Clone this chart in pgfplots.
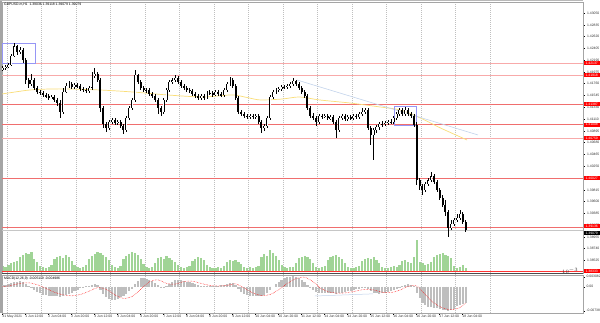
\documentclass[border=0pt]{standalone}
\usepackage{fontspec}
\setmainfont{Liberation Sans}
\usepackage{pgfplots}
\usepackage{pgfplotstable}
\pgfplotsset{compat=1.18}
\definecolor{volgreen}{RGB}{160,212,150}
\definecolor{macdgray}{RGB}{190,190,190}
\definecolor{framegray}{RGB}{165,165,165}
\definecolor{rectblue}{RGB}{150,150,245}
\definecolor{tlblue}{RGB}{195,212,236}
\definecolor{mayellow}{RGB}{250,222,120}
\definecolor{lvlred}{RGB}{240,110,110}
\definecolor{lvlpink}{RGB}{248,170,170}
\newcommand\tf{\fontsize{3.4}{3.8}\selectfont}
\pgfplotstableread{
o h l c
1.42027 1.42082 1.41991 1.42046
1.42046 1.42101 1.42009 1.42064
1.42064 1.42137 1.42046 1.42101
1.42101 1.42302 1.42082 1.42265
1.42265 1.42503 1.42247 1.42448
1.42448 1.42467 1.42284 1.42338
1.42338 1.42430 1.42302 1.42375
1.42375 1.42412 1.42137 1.42192
1.42192 1.42229 1.41753 1.41826
1.41826 1.41863 1.41680 1.41753
1.41753 1.41936 1.41716 1.41826
1.41826 1.41863 1.41643 1.41680
1.41680 1.41716 1.41570 1.41606
1.41606 1.41643 1.41552 1.41588
1.41588 1.41625 1.41515 1.41552
1.41552 1.41588 1.41497 1.41533
1.41533 1.41570 1.41460 1.41497
1.41497 1.41552 1.41478 1.41515
1.41515 1.41552 1.41423 1.41460
1.41460 1.41497 1.41350 1.41405
1.41405 1.41460 1.41131 1.41240
1.41240 1.41680 1.41204 1.41606
1.41606 1.41771 1.41588 1.41716
1.41716 1.41808 1.41680 1.41753
1.41753 1.41789 1.41661 1.41698
1.41698 1.41771 1.41661 1.41735
1.41735 1.41771 1.41680 1.41716
1.41716 1.41753 1.41625 1.41661
1.41661 1.41698 1.41606 1.41643
1.41643 1.41680 1.41588 1.41625
1.41625 1.41716 1.41588 1.41680
1.41680 1.41972 1.41643 1.41899
1.41899 1.42046 1.41863 1.41936
1.41936 1.41972 1.41789 1.41826
1.41826 1.41863 1.41240 1.41314
1.41314 1.41350 1.40948 1.41021
1.41021 1.41057 1.40874 1.40948
1.40948 1.41094 1.40911 1.41057
1.41057 1.41131 1.41021 1.41094
1.41094 1.41131 1.41003 1.41039
1.41039 1.41094 1.41003 1.41057
1.41057 1.41094 1.40948 1.40984
1.40984 1.41021 1.40838 1.40911
1.40911 1.41167 1.40874 1.41131
1.41131 1.41350 1.41094 1.41314
1.41314 1.41497 1.41277 1.41460
1.41460 1.42009 1.41423 1.41918
1.41918 1.41936 1.41753 1.41789
1.41789 1.41826 1.41643 1.41680
1.41680 1.41716 1.41606 1.41643
1.41643 1.41680 1.41588 1.41643
1.41643 1.41680 1.41533 1.41570
1.41570 1.41606 1.41497 1.41533
1.41533 1.41570 1.41423 1.41460
1.41460 1.41497 1.41204 1.41314
1.41314 1.41350 1.41167 1.41240
1.41240 1.41497 1.41204 1.41460
1.41460 1.41680 1.41423 1.41643
1.41643 1.41826 1.41606 1.41789
1.41789 1.41863 1.41753 1.41826
1.41826 1.41918 1.41789 1.41863
1.41863 1.41899 1.41753 1.41789
1.41789 1.41826 1.41680 1.41716
1.41716 1.41753 1.41643 1.41680
1.41680 1.41716 1.41606 1.41643
1.41643 1.41680 1.41588 1.41625
1.41625 1.41661 1.41533 1.41570
1.41570 1.41606 1.41497 1.41533
1.41533 1.41570 1.41460 1.41497
1.41497 1.41570 1.41460 1.41533
1.41533 1.41570 1.41460 1.41497
1.41497 1.41625 1.41478 1.41588
1.41588 1.41643 1.41552 1.41588
1.41588 1.41625 1.41515 1.41552
1.41552 1.41643 1.41533 1.41606
1.41606 1.41643 1.41533 1.41570
1.41570 1.41606 1.41515 1.41552
1.41552 1.41680 1.41515 1.41643
1.41643 1.41789 1.41606 1.41753
1.41753 1.41881 1.41716 1.41826
1.41826 1.41863 1.41680 1.41716
1.41716 1.41753 1.41460 1.41497
1.41497 1.41533 1.41204 1.41240
1.41240 1.41277 1.41167 1.41204
1.41204 1.41240 1.41131 1.41167
1.41167 1.41204 1.41112 1.41149
1.41149 1.41204 1.41112 1.41167
1.41167 1.41204 1.41112 1.41149
1.41149 1.41204 1.41112 1.41167
1.41167 1.41204 1.41021 1.41057
1.41057 1.41094 1.40856 1.40948
1.40948 1.41021 1.40893 1.40984
1.40984 1.41167 1.40948 1.41131
1.41131 1.41552 1.41094 1.41515
1.41515 1.41643 1.41478 1.41606
1.41606 1.41680 1.41570 1.41643
1.41643 1.41698 1.41606 1.41661
1.41661 1.41735 1.41625 1.41698
1.41698 1.41735 1.41661 1.41698
1.41698 1.41753 1.41661 1.41716
1.41716 1.41789 1.41680 1.41753
1.41753 1.41863 1.41716 1.41808
1.41808 1.41826 1.41716 1.41753
1.41753 1.41789 1.41643 1.41680
1.41680 1.41716 1.41570 1.41606
1.41606 1.41643 1.41497 1.41533
1.41533 1.41570 1.41277 1.41314
1.41314 1.41350 1.41131 1.41167
1.41167 1.41222 1.41094 1.41131
1.41131 1.41167 1.40984 1.41057
1.41057 1.41204 1.41021 1.41167
1.41167 1.41204 1.41112 1.41149
1.41149 1.41204 1.41131 1.41167
1.41167 1.41204 1.41094 1.41131
1.41131 1.41186 1.41094 1.41149
1.41149 1.41186 1.41021 1.41057
1.41057 1.41094 1.40765 1.40911
1.40911 1.41167 1.40874 1.41131
1.41131 1.41204 1.41094 1.41167
1.41167 1.41204 1.41076 1.41112
1.41112 1.41186 1.41076 1.41149
1.41149 1.41186 1.41094 1.41131
1.41131 1.41204 1.41094 1.41167
1.41167 1.41204 1.41112 1.41149
1.41149 1.41240 1.41112 1.41204
1.41204 1.41314 1.41167 1.41240
1.41240 1.41314 1.41204 1.41277
1.41277 1.41314 1.40911 1.40948
1.40948 1.40984 1.40637 1.40820
1.40820 1.40948 1.40362 1.40911
1.40911 1.41003 1.40856 1.40966
1.40966 1.41057 1.40911 1.41021
1.41021 1.41076 1.40966 1.41021
1.41021 1.41076 1.40984 1.41039
1.41039 1.41094 1.41003 1.41057
1.41057 1.41112 1.41021 1.41057
1.41057 1.41167 1.41021 1.41131
1.41131 1.41240 1.41094 1.41204
1.41204 1.41314 1.41167 1.41277
1.41277 1.41314 1.41167 1.41204
1.41204 1.41332 1.41167 1.41277
1.41277 1.41314 1.41167 1.41204
1.41204 1.41240 1.41131 1.41167
1.41167 1.41204 1.40966 1.41003
1.41003 1.41057 1.39905 1.39996
1.39996 1.40033 1.39813 1.39886
1.39886 1.39923 1.39722 1.39813
1.39813 1.39959 1.39776 1.39923
1.39923 1.40033 1.39886 1.39996
1.39996 1.40142 1.39959 1.40069
1.40069 1.40106 1.39923 1.39959
1.39959 1.39996 1.39776 1.39813
1.39813 1.39850 1.39630 1.39667
1.39667 1.39722 1.39502 1.39539
1.39539 1.39630 1.39337 1.39410
1.39410 1.39447 1.38953 1.39118
1.39118 1.39264 1.39081 1.39191
1.39191 1.39301 1.39154 1.39264
1.39264 1.39374 1.39227 1.39301
1.39301 1.39447 1.39264 1.39374
1.39374 1.39410 1.39191 1.39227
1.39227 1.39264 1.39044 1.39081
}\candles
\pgfplotstableread{
v
500
400
600
800
900
1000
1400
1600
1800
1700
1900
1200
900
500
400
300
400
600
1200
1400
1500
1300
1600
1400
1000
600
400
300
400
600
1200
1500
1700
1900
1800
1600
1400
1100
600
400
300
500
1200
1500
1700
1900
1800
1600
1200
700
400
300
400
800
1300
1400
1200
1500
1300
1100
900
600
400
300
400
500
1000
1200
1400
1300
1100
600
400
300
300
400
300
500
900
1100
1000
1100
900
700
400
300
400
300
400
500
1400
1700
1500
2100
1800
1500
1100
600
400
300
400
400
800
1300
1400
1500
1400
1200
800
400
300
400
500
1100
1400
1500
1600
1400
1200
800
400
300
300
400
500
1000
1200
1300
1200
1400
1100
800
400
300
300
400
500
400
600
1000
1100
900
800
1400
3100
900
800
600
700
900
1400
1600
1700
1800
1600
1500
1300
500
300
400
600
300
}\volume
\pgfplotstableread{
m
0.0005
0.0006
0.0007
0.0010
0.0014
0.0016
0.0017
0.0015
0.0008
0.0002
-0.0003
-0.0009
-0.0015
-0.0020
-0.0024
-0.0027
-0.0029
-0.0030
-0.0030
-0.0030
-0.0031
-0.0028
-0.0026
-0.0023
-0.0019
-0.0014
-0.0009
-0.0005
-0.0002
0.0001
0.0003
0.0006
0.0007
0.0004
-0.0010
-0.0023
-0.0033
-0.0039
-0.0041
-0.0040
-0.0037
-0.0033
-0.0029
-0.0022
-0.0014
-0.0006
0.0009
0.0019
0.0026
0.0027
0.0025
0.0022
0.0017
0.0012
0.0005
-0.0001
-0.0002
0.0002
0.0009
0.0015
0.0020
0.0021
0.0020
0.0018
0.0016
0.0013
0.0010
0.0007
0.0004
0.0003
0.0001
0.0002
0.0002
0.0001
0.0002
0.0003
0.0004
0.0006
0.0009
0.0012
0.0011
0.0004
-0.0007
-0.0016
-0.0022
-0.0026
-0.0028
-0.0029
-0.0029
-0.0029
-0.0029
-0.0026
-0.0020
-0.0010
0.0000
0.0008
0.0015
0.0021
0.0026
0.0029
0.0031
0.0032
0.0030
0.0026
0.0021
0.0015
0.0005
-0.0004
-0.0011
-0.0017
-0.0019
-0.0020
-0.0020
-0.0020
-0.0020
-0.0020
-0.0022
-0.0020
-0.0019
-0.0017
-0.0014
-0.0012
-0.0010
-0.0008
-0.0006
-0.0005
-0.0005
-0.0008
-0.0014
-0.0018
-0.0020
-0.0021
-0.0020
-0.0019
-0.0017
-0.0014
-0.0010
-0.0006
-0.0001
0.0003
0.0006
0.0007
0.0006
0.0002
-0.0018
-0.0035
-0.0049
-0.0057
-0.0061
-0.0062
-0.0064
-0.0067
-0.0070
-0.0072
-0.0073
-0.0074
-0.0072
-0.0068
-0.0060
-0.0056
-0.0053
-0.0051
}\macd
\pgfplotstableread{
t s
0.5 0.0000
6.5 0.0004
12.5 0.0010
18.5 0.0012
24.5 0.0006
30.5 -0.0005
36.5 -0.0017
42.5 -0.0025
48.5 -0.0028
54.5 -0.0024
60.5 -0.0014
66.5 -0.0003
72.5 -0.0008
78.5 -0.0025
84.5 -0.0036
90.5 -0.0030
96.5 -0.0008
102.5 0.0015
108.5 0.0021
114.5 0.0010
120.5 0.0008
126.5 0.0016
132.5 0.0017
138.5 0.0010
144.5 0.0004
150.5 0.0002
156.5 0.0004
162.5 0.0009
168.5 -0.0004
174.5 -0.0019
180.5 -0.0027
186.5 -0.0024
192.5 -0.0009
198.5 0.0010
204.5 0.0025
210.5 0.0029
216.5 0.0015
222.5 -0.0007
228.5 -0.0017
234.5 -0.0020
240.5 -0.0018
246.5 -0.0013
252.5 -0.0008
258.5 -0.0010
264.5 -0.0017
270.5 -0.0018
276.5 -0.0011
282.5 0.0001
288.5 0.0002
294.5 -0.0025
300.5 -0.0050
306.5 -0.0065
312.5 -0.0071
318.5 -0.0064
322.5 -0.0050
}\signal
\begin{document}
\begin{tikzpicture}[
  lab/.style={fill=red, text=white, font=\tf, inner sep=0pt, minimum width=16pt, minimum height=4.2pt, anchor=west},
  gridline/.style={gray!50, dash pattern=on 1pt off 1pt, line width=0.35pt}]
\useasboundingbox (0,0) rectangle (600pt,322pt);
\fill[white] (0,0) rectangle (600pt,322pt);
\foreach \k in {0,...,14} \draw[gridline] ({7pt+34.5pt*\k},9pt) -- ({7pt+34.5pt*\k},320pt);
% volume histogram (drawn on the price window)
\begin{axis}[at={(2pt,51pt)}, anchor=south west, width=581pt, height=35pt, scale only axis,
  xmin=0, xmax=404.17, ymin=0, ymax=3500, hide axis]
\addplot[ycomb, volgreen, line width=2.2pt] table[x expr={2*\coordindex+0.5}, y=v] {\volume};
\end{axis}
% price window
\begin{axis}[at={(2pt,320pt)}, anchor=north west, width=581pt, height=271pt, scale only axis,
  xmin=0, xmax=404.17, ymin=1.38294, ymax=1.43253, clip=false,
  axis line style={framegray, line width=0.8pt},
  xtick=\empty,
  ytick={1.43050,1.42835,1.42620,1.42405,1.42190,1.41975,1.41760,1.41545,1.41330,1.41110,1.40895,1.40680,1.40465,1.40250,1.40035,1.39815,1.39600,1.39385,1.39170,1.38955,1.38740,1.38525,1.38310},
  yticklabels={1.43050,1.42835,1.42620,1.42405,1.42190,1.41975,1.41760,1.41545,1.41330,1.41110,1.40895,1.40680,1.40465,1.40250,1.40035,1.39815,1.39600,1.39385,1.39170,1.38955,1.38740,1.38525,1.38310},
  ytick pos=right, yticklabel pos=right, tick align=outside, major tick length=1.5pt,
  y tick style={black, line width=0.3pt},
  yticklabel style={font=\tf, xshift=-1pt, text=black!80}]
\addplot[lvlpink, line width=0.7pt] coordinates {(0,1.42137) (404.17,1.42137)};
\addplot[lvlpink, line width=0.7pt] coordinates {(0,1.41918) (404.17,1.41918)};
\addplot[lvlred, line width=0.7pt] coordinates {(0,1.41387) (404.17,1.41387)};
\addplot[lvlred, line width=0.7pt] coordinates {(0,1.41008) (404.17,1.41008)};
\addplot[lvlpink, line width=0.7pt] coordinates {(0,1.40759) (404.17,1.40759)};
\addplot[lvlred, line width=0.7pt] coordinates {(0,1.40027) (404.17,1.40027)};
\addplot[lvlred, line width=0.7pt] coordinates {(0,1.39136) (404.17,1.39136)};
\addplot[red!80, line width=0.7pt] coordinates {(0,1.38333) (404.17,1.38333)};
\addplot[gray!45, line width=0.4pt] coordinates {(0,1.39079) (404.17,1.39079)};
\addplot[mayellow, line width=0.7pt, smooth] coordinates {
(0,1.41570) (9,1.41606) (19.5,1.41643) (33,1.41661) (47,1.41661) (68,1.41643)
(91,1.41606) (115,1.41552) (138,1.41515) (150,1.41533) (161,1.41552) (172,1.41497)
(180,1.41460) (195,1.41478) (207,1.41515) (221,1.41460) (242,1.41405) (263,1.41332)
(277,1.41277) (291,1.41131) (305,1.40948) (323.5,1.40728)};
\addplot[tlblue, line width=0.6pt] coordinates {(205.2,1.41826) (331.1,1.40820)};
\addplot[rectblue, line width=0.6pt] coordinates {(0,1.42503) (23,1.42503) (23,1.42137) (0,1.42137) (0,1.42503)};
\addplot[rectblue, line width=0.6pt] coordinates {(272.7,1.41350) (288,1.41350) (288,1.41003) (272.7,1.41003) (272.7,1.41350)};
% candles: wicks, bodies, hollow bull bodies
\addplot[draw=none, mark=none, error bars/.cd, y dir=both, y explicit, error mark=none,
  error bar style={draw=black, line width=0.6pt}]
  table[x expr={2*\coordindex+0.5}, y expr={(\thisrow{h}+\thisrow{l})/2}, y error expr={(\thisrow{h}-\thisrow{l})/2}] {\candles};
\addplot[draw=none, mark=none, error bars/.cd, y dir=both, y explicit, error mark=none,
  error bar style={draw=black, line width=2.0pt}]
  table[x expr={2*\coordindex+0.5}, y expr={(\thisrow{o}+\thisrow{c})/2}, y error expr={max(abs(\thisrow{c}-\thisrow{o})/2,0.00006)}] {\candles};
\addplot[draw=none, mark=none, error bars/.cd, y dir=both, y explicit, error mark=none,
  error bar style={draw=white, line width=0.7pt}]
  table[x expr={2*\coordindex+0.5}, y expr={(\thisrow{o}+\thisrow{c})/2}, y error expr={max((\thisrow{c}-\thisrow{o})/2-0.00008,0)}] {\candles};
\coordinate (r1) at (axis cs:404.17,1.42137);
\coordinate (r2) at (axis cs:404.17,1.41918);
\coordinate (r3) at (axis cs:404.17,1.41387);
\coordinate (r4) at (axis cs:404.17,1.41008);
\coordinate (r5) at (axis cs:404.17,1.40759);
\coordinate (r6) at (axis cs:404.17,1.40027);
\coordinate (r7) at (axis cs:404.17,1.39150);
\coordinate (r8) at (axis cs:404.17,1.38333);
\coordinate (bk) at (axis cs:404.17,1.39020);
\end{axis}
% MACD window
\begin{axis}[at={(2pt,47pt)}, anchor=north west, width=581pt, height=38pt, scale only axis,
  xmin=0, xmax=404.17, ymin=-0.00809, ymax=0.0036,
  axis line style={framegray, line width=0.8pt},
  xtick={0,16,...,320},
  xticklabels={31 May 2021,1 Jun 12:00,2 Jun 04:00,2 Jun 20:00,3 Jun 12:00,4 Jun 04:00,4 Jun 20:00,7 Jun 12:00,8 Jun 04:00,8 Jun 20:00,9 Jun 12:00,10 Jun 04:00,10 Jun 20:00,11 Jun 12:00,14 Jun 04:00,14 Jun 20:00,15 Jun 12:00,16 Jun 04:00,16 Jun 20:00,17 Jun 12:00,18 Jun 04:00},
  xtick pos=bottom, xticklabel style={font=\tf, anchor=north west, inner sep=0.6pt, xshift=-0.4pt, text=black!80},
  ytick={0.003082,0,-0.00738}, yticklabels={0.003082,0.00,-0.00738},
  ytick pos=right, yticklabel pos=right, tick align=outside, major tick length=1.5pt,
  tick style={black, line width=0.3pt},
  yticklabel style={font=\tf, xshift=-1.5pt, text=black!80}]
\addplot[ycomb, macdgray, line width=2.2pt] table[x expr={2*\coordindex+0.5}, y=m] {\macd};
\addplot[red, densely dotted, line width=0.5pt, smooth] table[x=t, y=s] {\signal};
\addplot[tlblue, line width=0.5pt] coordinates {(217.7,-0.00286) (258.1,-0.0022)};
\end{axis}
% frame
\fill[framegray] (0,9pt) rectangle (2pt,322pt);
\fill[gray!55] (0,321pt) rectangle (583pt,322pt);
\draw[black!70, line width=1.3pt] (2pt,48.4pt) -- (583pt,48.4pt);
% axis price labels
\node[lab] at ([xshift=0.5pt]r1) {1.42137};
\node[lab] at ([xshift=0.5pt]r2) {1.41918};
\node[lab] at ([xshift=0.5pt]r3) {1.41387};
\node[lab] at ([xshift=0.5pt]r4) {1.41008};
\node[lab] at ([xshift=0.5pt]r5) {1.40759};
\node[lab] at ([xshift=0.5pt]r6) {1.40027};
\node[lab] at ([xshift=0.5pt]r7) {1.39136};
\node[lab] at ([xshift=0.5pt]r8) {1.38333};
\node[lab, fill=black] at ([xshift=0.5pt]bk) {1.39079};
% headers
\node[anchor=north west, font=\tf, inner sep=0pt] at (4pt,319.5pt) {GBPUSD.m,H1\ \ 1.39036 1.39118 1.39079 1.39079};
\node[anchor=north west, font=\tf, inner sep=0pt] at (4pt,45.5pt) {MACD(12,26,9) -0.005119 -0.004986};
\end{tikzpicture}
\end{document}
